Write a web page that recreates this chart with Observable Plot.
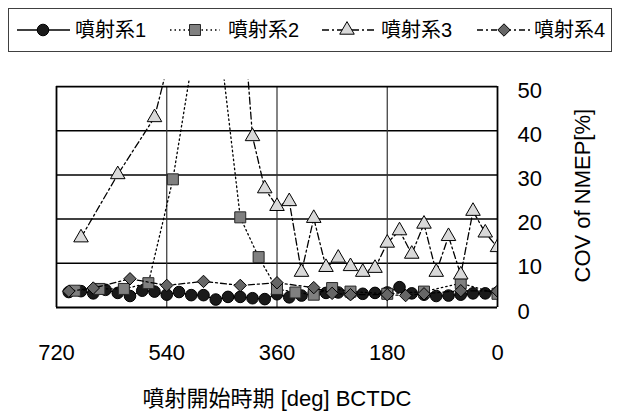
<!DOCTYPE html>
<html><head><meta charset="utf-8">
<script src="https://cdn.jsdelivr.net/npm/d3@7"></script>
<script src="https://cdn.jsdelivr.net/npm/@observablehq/plot@0.6"></script>
<style>
body{margin:0;background:#fff;font-family:'Liberation Sans',Arial,'Noto Sans CJK JP',sans-serif;}
#wrap{width:620px;height:412px;overflow:hidden;background:#fff;}
#legend svg,#chart svg{display:block;}
</style></head><body><div id="wrap"><div id="legend"></div><div id="chart"></div></div>
<script>
const seriesNames = ["噴射系1","噴射系2","噴射系3","噴射系4"];
const s1Deg = [700,680,660,640,620,600,580,560,540,520,500,480,460,440,420,400,380,360,340,320,300,280,260,240,220,200,180,160,140,120,100,80,60,40,20,0];
const s1Val = [3.5,3.7,3.2,4.0,3.3,2.6,3.8,3.6,2.9,3.5,2.8,2.8,1.8,2.4,2.4,2.1,1.9,3.0,2.3,2.7,3.2,3.3,3.4,3.2,3.1,3.3,3.4,4.6,3.2,2.9,2.6,2.7,2.9,3.2,3.2,3.4];
const s2Deg = [690,650,610,570,530,490,450,420,390,360,330,300,270,240,180,120,60,0];
const s2Val = [3.8,4.2,4.2,5.5,29.0,63,56,20.4,11.4,4.2,3.4,2.9,4.4,3.6,3.1,3.6,5.5,3.1];
const s3Deg = [680,620,560,500,460,420,400,380,360,340,320,300,280,260,240,220,200,180,160,140,120,100,80,60,40,20,0];
const s3Val = [15.8,30.1,43.0,76,85,75,38.7,26.9,22.9,24.0,8.0,20.2,9.1,11.2,9.3,8.0,8.9,14.6,17.4,12.1,18.9,8.0,16.1,7.4,21.8,16.9,13.6];
const s4Deg = [700,660,600,540,480,420,360,300,270,240,180,150,120,60,0];
const s4Val = [3.7,4.4,6.5,5.0,5.9,5.0,5.6,4.5,3.2,2.9,2.9,2.7,3.1,3.8,3.7];
const xTicks = [720,540,360,180,0];
const yTicks = [0,10,20,30,40,50];
const xGrid = [540,360,180];
const yGrid = [10,20,30,40];
const xLabel = "噴射開始時期 [deg] BCTDC";
const yLabel = "COV of NMEP[%]";

const degs = [s1Deg,s2Deg,s3Deg,s4Deg];
const vals = [s1Val,s2Val,s3Val,s4Val];
const styles = [
  {symbol:"circle", d3s:d3.symbolCircle, fill:"#1a1a1a", stroke:"#000", dash:null, r:5.8},
  {symbol:"square", d3s:d3.symbolSquare, fill:"#808080", stroke:"#262626", dash:"1.5,3", r:6.2},
  {symbol:"triangle", d3s:d3.symbolTriangle, fill:"#d9d9d9", stroke:"#000", dash:"7,3,2,3", r:5.4},
  {symbol:"diamond2", d3s:d3.symbolDiamond2, fill:"#666666", stroke:"#000", dash:"6,3,2,3", r:5.6}
];
const tables = degs.map((d,i)=>d.map((x,j)=>({deg:x, val:vals[i][j]})));

const FONT = "'Liberation Sans', Arial, 'Noto Sans CJK JP', sans-serif";

// legend
const leg = d3.select("#legend").append("svg").attr("width",620).attr("height",60)
  .style("font-family",FONT);
leg.append("rect").attr("x",8.5).attr("y",8.5).attr("width",603).attr("height",43)
  .attr("fill","#fff").attr("stroke","#404040").attr("stroke-width",1);
const legPos = [{x1:17,x2:70,m:43,t:75},{x1:170,x2:220,m:195,t:228},{x1:322,x2:376,m:347,t:381},{x1:477,x2:530,m:504,t:534}];
legPos.forEach((p,i)=>{
  const st = styles[i];
  leg.append("line").attr("x1",p.x1).attr("x2",p.x2).attr("y1",30).attr("y2",30)
    .attr("stroke","#000").attr("stroke-width",1.3).attr("stroke-dasharray",st.dash);
  leg.append("path").attr("d",d3.symbol(st.d3s, Math.PI*st.r*st.r)())
    .attr("transform",`translate(${p.m},30)`).attr("fill",st.fill).attr("stroke",st.stroke).attr("stroke-width",1);
  leg.append("text").attr("x",p.t).attr("y",37).attr("font-size",20).attr("fill","#000").text(seriesNames[i]);
});

const marks = [
  Plot.ruleY(yGrid, {stroke:"#000", strokeWidth:1.5}),
  Plot.ruleX(xGrid, {y1:0, y2:50, stroke:"#333", strokeWidth:1.2}),
  Plot.ruleY([0,50], {stroke:"#000", strokeWidth:1.8}),
  Plot.ruleX([720,0], {y1:0, y2:50, stroke:"#000", strokeWidth:1.8})
];
tables.forEach((t,i)=>{
  const st = styles[i];
  marks.push(Plot.line(t, {x:"deg", y:"val", stroke:"#000", strokeWidth:1.3, strokeDasharray:st.dash, clip:true}));
  marks.push(Plot.dot(t, {x:"deg", y:"val", symbol:()=>st.symbol, r:st.r, fill:st.fill, stroke:st.stroke, strokeWidth:1, clip:true}));
});
marks.push(
  Plot.axisX({ticks:xTicks, anchor:"bottom", tickSize:0, tickPadding:37, fontSize:22, label:null, tickFormat:d=>String(d)}),
  Plot.axisY({ticks:yTicks, anchor:"right", tickSize:0, tickPadding:20, dy:4, fontSize:22, label:null, textAnchor:"start"}),
  Plot.text([xLabel], {frameAnchor:"bottom", lineAnchor:"middle", dy:91, fontSize:22, fill:"#000"}),
  Plot.text([yLabel], {frameAnchor:"right", textAnchor:"middle", lineAnchor:"middle", dx:85, dy:2, rotate:-90, fontSize:22, fill:"#000"})
);

const chart = Plot.plot({
  width:620, height:352,
  marginLeft:56, marginRight:123, marginTop:19.4, marginBottom:105,
  x:{domain:[720,0]},
  y:{domain:[0,51.5]},
  symbol:{type:"identity"},
  style:{fontFamily:FONT, fontSize:"22px", color:"#000", background:"#fff", overflow:"visible"},
  marks
});
document.getElementById("chart").appendChild(chart);
</script></body></html>
